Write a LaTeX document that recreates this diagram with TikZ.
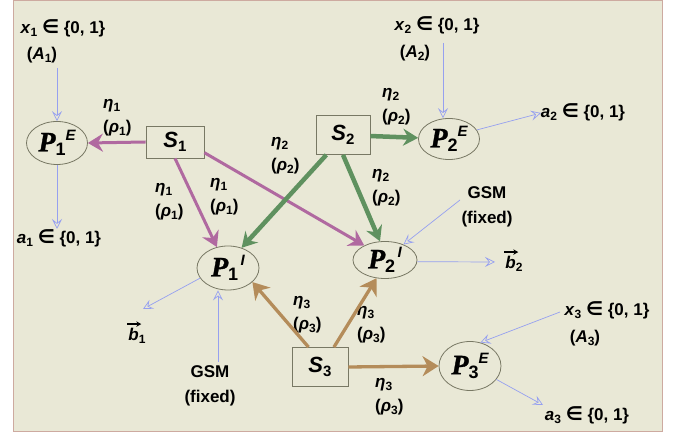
\documentclass[tikz,border=0pt]{standalone}
\usepackage{fontspec}
\setmainfont{Liberation Sans}
\newfontfamily\serf[BoldItalicFeatures={FakeBold=1.2}]{Liberation Serif}
\newfontfamily\dvs{DejaVu Sans}
\usetikzlibrary{arrows.meta,shapes.geometric}
\definecolor{bgc}{RGB}{233,232,214}
\definecolor{framec}{RGB}{205,170,160}
\definecolor{edgec}{RGB}{120,120,100}
\definecolor{magc}{RGB}{176,105,160}
\definecolor{grnc}{RGB}{95,145,95}
\definecolor{tanc}{RGB}{180,140,90}
\definecolor{bluc}{RGB}{150,160,240}
\newcommand\lsub[1]{\raisebox{-0.35ex}{\fontsize{12}{12}\selectfont #1}}
\newcommand\elt{{\dvs\fontsize{19}{19}\selectfont ∈}}
\newcommand\pname[2]{{\serf\bfseries\itshape\fontsize{28}{28}\selectfont P}\raisebox{-0.45ex}{\fontsize{18}{18}\selectfont\bfseries #1}\raisebox{1.15ex}{\fontsize{15}{15}\selectfont\bfseries\itshape #2}}
\newcommand\sname[1]{{\fontsize{22}{22}\selectfont\bfseries\itshape S}\raisebox{-0.4ex}{\fontsize{15}{15}\selectfont\bfseries #1}}
\tikzset{
  every node/.style={font=\fontsize{17}{24}\selectfont\bfseries, inner sep=0pt},
  pell/.style={ellipse, draw=edgec, line width=0.8pt, inner sep=0pt},
  sbox/.style={rectangle, draw=edgec, line width=0.8pt, inner sep=0pt},
  lbl/.style={align=left, anchor=west},
  vecarr/.style={draw=black, line width=1.4pt, -{Stealth[length=5pt,width=5.5pt]}},
  marr/.style={draw=magc, line width=3pt, -{Stealth[length=15pt,width=18pt,inset=5pt]}},
  garr/.style={draw=grnc, line width=4.5pt, -{Stealth[length=15pt,width=17pt,inset=5pt]}},
  tarr/.style={draw=tanc, line width=3.3pt, -{Stealth[length=16pt,width=20pt,inset=5pt]}},
  barr/.style={draw=bluc, line width=0.7pt, -{Stealth[open,length=10pt,width=10pt,inset=4pt]}}
}
\begin{document}
\begin{tikzpicture}[x=1pt,y=-1pt]
\useasboundingbox (0,0) rectangle (673,435);
\draw[fill=bgc, draw=framec, line width=1pt] (13,1) rectangle (662,432);

% main nodes
\node[pell, minimum width=61pt, minimum height=43pt] (p1e) at (57,143) {\pname{1}{E}};
\node[pell, minimum width=61pt, minimum height=41pt] (p2e) at (449,139) {\pname{2}{E}};
\node[pell, minimum width=62pt, minimum height=49pt] (p3e) at (470,366) {\pname{3}{E}};
\node[pell, minimum width=62pt, minimum height=44pt] (p1i) at (228,268) {\pname{1}{\,I}};
\node[pell, minimum width=64pt, minimum height=37pt] (p2i) at (385,260) {\pname{2}{\,I}};
\node[sbox, minimum width=58pt, minimum height=32pt] (s1) at (175,142) {\sname{1}};
\node[sbox, minimum width=54pt, minimum height=39pt] (s2) at (343,135) {\sname{2}};
\node[sbox, minimum width=56pt, minimum height=39pt] (s3) at (320,367) {\sname{3}};

% text labels
\node (x1) at (63,28) {\textit{x}\lsub{1} \elt{} \{0, 1\}};
\node (A1) at (42,55) {(\textit{A}\lsub{1})};
\node (a1) at (59,238) {\textit{a}\lsub{1} \elt{} \{0, 1\}};
\node (x2) at (437,25) {\textit{x}\lsub{2} \elt{} \{0, 1\}};
\node (A2) at (415,53) {(\textit{A}\lsub{2})};
\node (a2) at (583,112) {\textit{a}\lsub{2} \elt{} \{0, 1\}};
\node (x3) at (607,310) {\textit{x}\lsub{3} \elt{} \{0, 1\}};
\node (A3) at (585,338) {(\textit{A}\lsub{3})};
\node (a3) at (587,415) {\textit{a}\lsub{3} \elt{} \{0, 1\}};
\node (gsmA) at (487,193) {GSM};
\node (fixA) at (487,219) {(fixed)};
\node (gsmB) at (210,372) {GSM};
\node (fixB) at (210,398) {(fixed)};
\node (b1) at (137,336) {\textit{b}\lsub{1}};
\node (b2) at (514,264) {\textit{b}\lsub{2}};
\draw[vecarr] ([shift={(-1,-4)}]b1.north west) -- ([shift={(13,-4)}]b1.north west);
\draw[vecarr] ([shift={(-1,-4)}]b2.north west) -- ([shift={(13,-4)}]b2.north west);

\node[lbl] (l11) at (103,118) {\textit{η}\lsub{1}\\(\textit{ρ}\lsub{1})};
\node[lbl] (l12) at (155,202) {\textit{η}\lsub{1}\\(\textit{ρ}\lsub{1})};
\node[lbl] (l13) at (210,197) {\textit{η}\lsub{1}\\(\textit{ρ}\lsub{1})};
\node[lbl] (l21) at (271,156) {\textit{η}\lsub{2}\\(\textit{ρ}\lsub{2})};
\node[lbl] (l22) at (382,107) {\textit{η}\lsub{2}\\(\textit{ρ}\lsub{2})};
\node[lbl] (l23) at (372,188) {\textit{η}\lsub{2}\\(\textit{ρ}\lsub{2})};
\node[lbl] (l31) at (293,315) {\textit{η}\lsub{3}\\(\textit{ρ}\lsub{3})};
\node[lbl] (l32) at (357,325) {\textit{η}\lsub{3}\\(\textit{ρ}\lsub{3})};
\node[lbl] (l33) at (375,397) {\textit{η}\lsub{3}\\(\textit{ρ}\lsub{3})};

% free ends
\coordinate (cx1) at (57,68);
\coordinate (ca1) at (57,229);
\coordinate (cx2) at (443,43);
\coordinate (ca2) at (541,113);
\coordinate (cgA) at (460,200);
\coordinate (cb2) at (495,262);
\coordinate (cb1) at (143,309);
\coordinate (cgB) at (218,362);
\coordinate (cx3) at (560,312);
\coordinate (ca3) at (543,405);

% thin blue arrows
\draw[barr] (cx1) -- (p1e.north);
\draw[barr] (p1e.south) -- (ca1);
\draw[barr] (cx2) -- (cx2 |- p2e.north);
\draw[barr] (p2e.18) -- (ca2);
\draw[barr] (cgA) -- (p2i.40);
\draw[barr] (p2i.-3) -- (cb2);
\draw[barr] (p1i.200) -- (cb1);
\draw[barr] (cgB) -- (cgB |- p1i.south);
\draw[barr] (cx3) -- (p3e.66);
\draw[barr] (p3e.-27) -- (ca3);

% thick arrows
\draw[marr] (s1.west) -- (p1e.east);
\draw[marr] (s1.south) -- (p1i.118);
\draw[marr] (s1.-20) -- (p2i.145);
\draw[garr] (s2) -- (p2e);
\draw[garr] (s2.-130) -- (p1i.56);
\draw[garr] (s2.south) -- (p2i.105);
\draw[tarr] (s3.120) -- (p1i.-30);
\draw[tarr] (s3.55) -- (p2i.-115);
\draw[tarr] (s3.east) -- (p3e.west);
\end{tikzpicture}
\end{document}
